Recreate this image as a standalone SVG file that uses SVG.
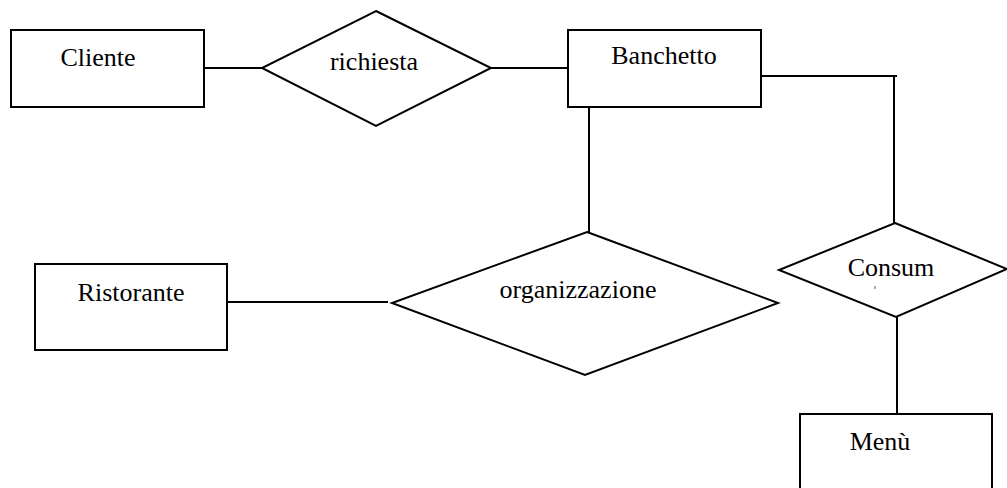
<svg xmlns="http://www.w3.org/2000/svg" width="1007" height="488" viewBox="0 0 1007 488">
<style>
.shape{fill:#fff;stroke:#000;stroke-width:2}
.conn{fill:none;stroke:#000;stroke-width:2}
.lbl{font-family:"Liberation Serif","Times New Roman",serif;font-size:26px;fill:#000;text-anchor:middle}
</style>
<rect width="1007" height="488" fill="#fff"/>
<g id="connectors">
<line class="conn" x1="204" y1="68" x2="262" y2="68"/>
<line class="conn" x1="491" y1="68" x2="568" y2="68"/>
<polyline class="conn" points="761,76 897,76"/>
<line class="conn" x1="894" y1="76" x2="894" y2="223"/>
<line class="conn" x1="589" y1="107" x2="589" y2="232"/>
<line class="conn" x1="224" y1="302" x2="388" y2="302"/>
<line class="conn" x1="897" y1="317" x2="897" y2="414"/>
</g>
<g id="Cliente">
<rect class="shape" x="11" y="30" width="193" height="77"/>
<text class="lbl" x="98" y="66">Cliente</text>
</g>
<g id="richiesta">
<polygon class="shape" points="376,11 491,68 376,126 262,68"/>
<text class="lbl" x="374" y="70">richiesta</text>
</g>
<g id="Banchetto">
<rect class="shape" x="568" y="30" width="193" height="77"/>
<text class="lbl" x="664" y="64">Banchetto</text>
</g>
<g id="Ristorante">
<rect class="shape" x="35" y="264" width="192" height="86"/>
<text class="lbl" x="131" y="301">Ristorante</text>
</g>
<g id="organizzazione">
<polygon class="shape" points="587,232 778,303 585,375 392,303"/>
<text class="lbl" x="578" y="298">organizzazione</text>
</g>
<g id="Consum">
<polygon class="shape" points="895,223 1007,269 896,317 779,270"/>
<text class="lbl" x="891" y="276">Consum</text>
<line x1="875" y1="286" x2="875" y2="289" stroke="#555" stroke-width="1"/>
</g>
<g id="Menu">
<rect class="shape" x="800" y="414" width="192" height="100"/>
<text class="lbl" x="880" y="450">Menù</text>
</g>
</svg>
